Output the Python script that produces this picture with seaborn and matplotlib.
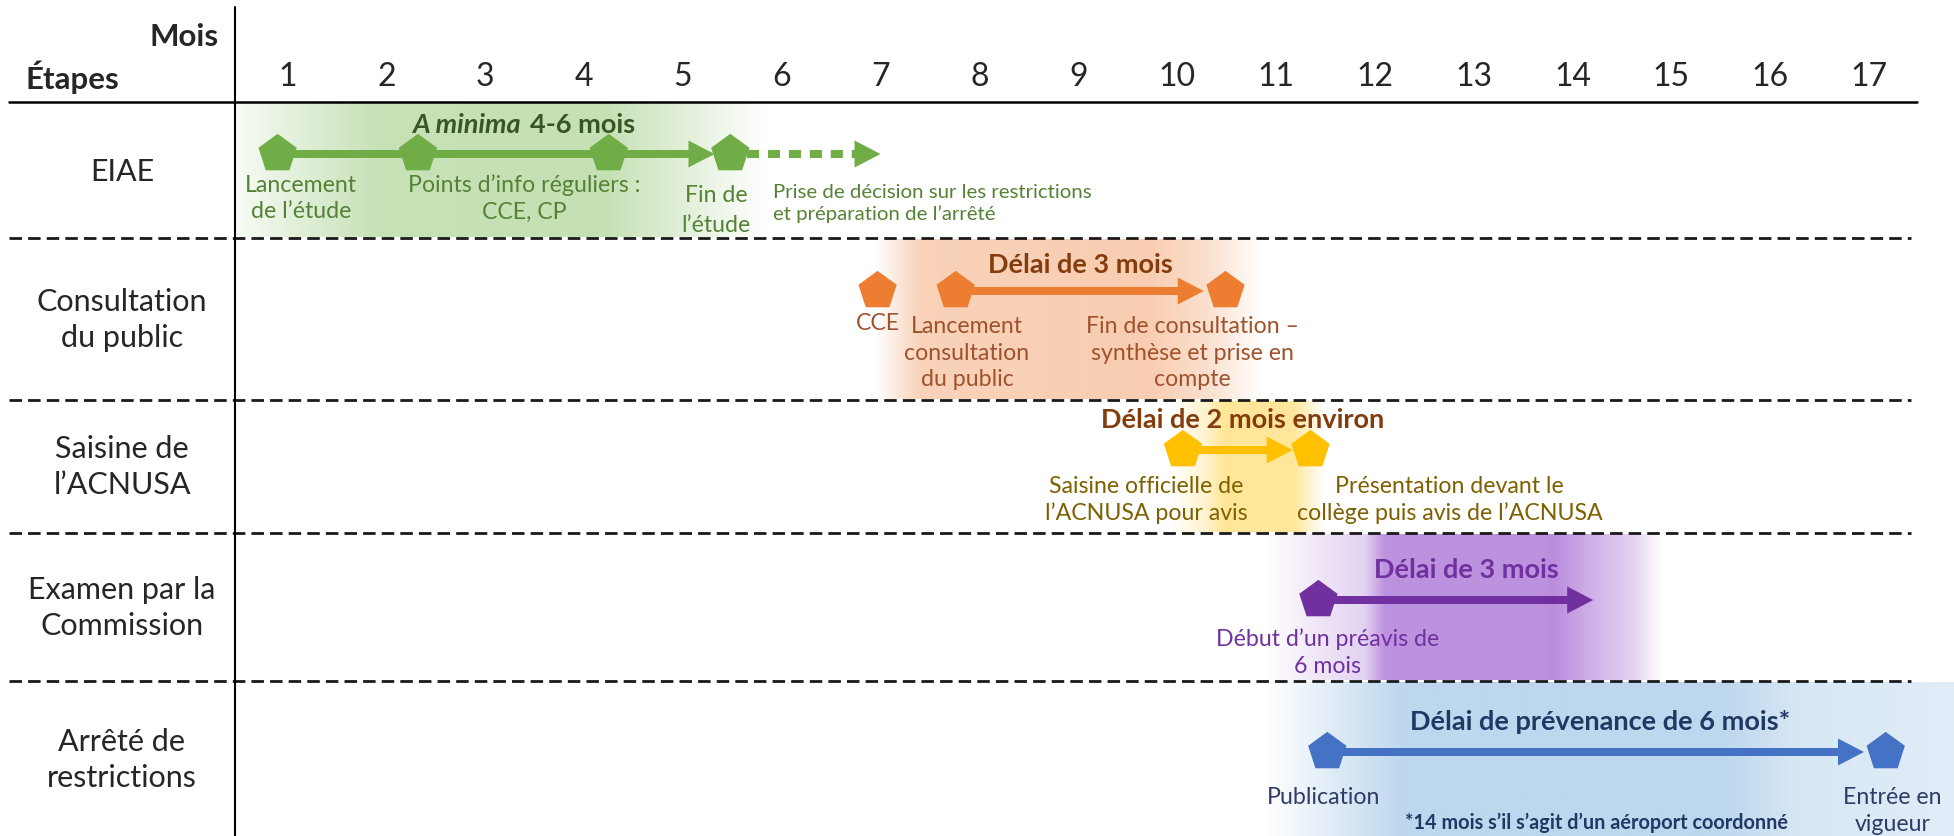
import numpy as np
import pandas as pd
import matplotlib
matplotlib.use("Agg")
import matplotlib.pyplot as plt
import seaborn as sns
from matplotlib.colors import to_rgb

# ---- données ----
mois = list(range(1, 18))
etapes = ["EIAE", "Consultation\ndu public", "Saisine de\nl’ACNUSA",
          "Examen par la\nCommission", "Arrêté de\nrestrictions"]

# jalons (en mois) de chaque étape
jalons_eiae = [0.90, 2.32, 4.25, 5.48]
jalons_consult = [6.97, 7.76, 10.49]
jalons_saisine = [10.06, 11.35]
jalons_examen = [11.43]
jalons_arrete = [11.52, 17.17]

# flèches (début, fin) en mois
fleche_eiae = (0.90, 5.32)
pointilles_eiae = (5.65, 7.00)
fleche_consult = (7.76, 10.27)
fleche_saisine = (10.06, 11.17)
fleche_examen = (11.43, 14.21)
fleche_arrete = (11.52, 16.95)

# titres des délais (texte, mois du centre)
titres = [("Délai de 3 mois", 9.02), ("Délai de 2 mois environ", 10.66),
          ("Délai de 3 mois", 12.93), ("Délai de prévenance de 6 mois*", 14.28)]

# libellés des jalons (texte, mois du centre)
libelles_eiae = [("Lancement\nde l’étude", 1.14), ("Points d’info réguliers :\nCCE, CP", 3.40)]
libelle_fin_eiae = ("Fin de\nl’étude", 5.335)
libelle_decision = ("Prise de décision sur les restrictions\net préparation de l’arrêté", 5.91)
libelles_consult = [("CCE", 6.97), ("Lancement\nconsultation\ndu public", 7.875),
                    ("Fin de consultation –\nsynthèse et prise en\ncompte", 10.16)]
libelles_saisine = [("Saisine officielle de\nl’ACNUSA pour avis", 9.69),
                    ("Présentation devant le\ncollège puis avis de l’ACNUSA", 12.76)]
libelles_examen = [("Début d’un préavis de\n6 mois", 11.52)]
libelles_arrete = [("Publication", 11.48)]
libelle_entree = ("Entrée en\nvigueur", 17.24)
note_arrete = ("*14 mois s’il s’agit d’un aéroport coordonné", 14.24)

# ---- mise en page ----
W, H = 1954, 836
X1, DX = 287.5, 98.84          # pixel du mois 1, largeur d'un mois


def px2m(px):
    return 1 + (px - X1) / DX


row_y = [154, 291, 450, 600, 752]          # axe des flèches
seps = [238, 400, 533, 681]                # séparateurs pointillés
label_y = [172, 320, 467, 608, 760]

green, green_t, green_d = "#70AD47", "#548235", "#375623"
orange, orange_t, orange_d = "#ED7D31", "#A0522D", "#843C0C"
yellow, yellow_t = "#FFC000", "#7F6000"
purple = "#7030A0"
blue, blue_t, blue_d = "#4472C4", "#2F3B66", "#203864"

sns.set_theme(style="white")
plt.rcParams["font.family"] = ["Lato", "DejaVu Sans"]

fig = plt.figure(figsize=(W / 100, H / 100), dpi=100)
ax = fig.add_axes([0, 0, 1, 1])


def bande(stops_x, stops_a, color, y0, y1):
    xs = np.linspace(stops_x[0], stops_x[-1], 800)
    a = np.interp(xs, stops_x, stops_a)
    c = np.array(to_rgb(color))
    img = 1 - a[:, None] * (1 - c[None, :])
    ax.imshow(img[None, :, :], extent=[xs[0], xs[-1], y1, y0], aspect="auto",
              interpolation="bilinear", zorder=0)


# fonds dégradés
bande([px2m(236), 1.9, 4.2, 4.6, 5.85], [0.15, 0.95, 1, 0.75, 0], "#C5E0B4", 103, 237)
bande([6.94, 7.4, 9.7, 10.3, 10.85], [0, 0.85, 0.95, 0.6, 0], "#F8CBAD", 239, 399)
bande([9.93, 10.3, 10.47, 11.17, 11.48], [0, 0.5, 1, 1, 0], "#FFE699", 401, 532)
bande([10.9, 11.9, 12.1, 13.7, 13.8, 14.3, 14.6, 14.9],
      [0, 0.4, 0.95, 0.95, 1, 0.6, 0.4, 0], "#B98CDC", 534, 680)
bande([10.9, 11.4, 12.3, 15.5, 16.3, px2m(W)], [0, 0.35, 1, 1, 0.6, 0.45], "#BDD7EE", 682, 836)

# grille : en-tête, séparateurs, colonne des étapes
ax.plot([px2m(9), px2m(1917)], [102, 102], color="black", lw=1.8, zorder=1)
ax.hlines(seps, px2m(9), px2m(1911), colors="#1a1a1a", lw=2.0,
          linestyles=(0, (4.5, 2.2)), zorder=1)
ax.plot([px2m(235), px2m(235)], [7, H], color="black", lw=1.5, zorder=1)


# flèches
def fleche(x0, x1, y, color):
    ax.arrow(x0, y, x1 - x0, 0, width=8, head_width=27, head_length=26 / DX,
             length_includes_head=True, color=color, lw=0, zorder=2)


fleche(*fleche_eiae, row_y[0], green)
fleche(*fleche_consult, row_y[1], orange)
fleche(*fleche_saisine, row_y[2], yellow)
fleche(*fleche_examen, row_y[3], purple)
fleche(*fleche_arrete, row_y[4], blue)

p0, p1 = pointilles_eiae
ax.plot([p0, p1 - 24 / DX], [row_y[0]] * 2, color=green, lw=5.8,
        linestyle=(0, (1.5, 1.1)), dash_capstyle="butt", zorder=2)
ax.arrow(p1 - 26 / DX, row_y[0], 26 / DX, 0, width=0.1, head_width=27,
         head_length=26 / DX, length_includes_head=True, color=green, lw=0, zorder=2)

# jalons (pentagones)
df = pd.DataFrame({
    "mois": jalons_eiae + jalons_consult + jalons_saisine + jalons_examen + jalons_arrete,
    "etape": (["EIAE"] * len(jalons_eiae) + ["Consultation"] * len(jalons_consult)
              + ["Saisine"] * len(jalons_saisine) + ["Examen"] * len(jalons_examen)
              + ["Arrêté"] * len(jalons_arrete)),
})
ypos = dict(zip(["EIAE", "Consultation", "Saisine", "Examen", "Arrêté"], row_y))
df["y"] = df["etape"].map(ypos)
sns.scatterplot(data=df, x="mois", y="y", hue="etape", marker="p", s=29 ** 2,
                linewidth=0, legend=False, zorder=3, ax=ax,
                palette={"EIAE": green, "Consultation": orange, "Saisine": yellow,
                         "Examen": purple, "Arrêté": blue})

# en-tête
ax.text(px2m(219), 37, "Mois", ha="right", va="center", fontsize=22.5, fontweight="bold")
ax.text(px2m(25), 77, "Étapes", ha="left", va="center", fontsize=22.5, fontweight="bold")
for m in mois:
    ax.text(m, 77, str(m), ha="center", va="center", fontsize=23)
for lab, y in zip(etapes, label_y):
    ax.text(px2m(122), y, lab, ha="center", va="center", fontsize=22, linespacing=1.32)

# textes EIAE
FS = 16.7
ax.text(px2m(521), 125, "A minima", ha="right", va="center", fontsize=19.5,
        fontweight="bold", fontstyle="italic", color=green_d)
ax.text(px2m(530), 125, "4-6 mois", ha="left", va="center", fontsize=19.5,
        fontweight="bold", color=green_d)
for txt, x in libelles_eiae:
    ax.text(x, 198.5, txt, ha="center", va="center", fontsize=FS, color=green_t, linespacing=1.34)
ax.text(libelle_fin_eiae[1], 210.5, libelle_fin_eiae[0], ha="center", va="center",
        fontsize=FS, color=green_t, linespacing=1.48)
ax.text(libelle_decision[1], 203.5, libelle_decision[0], ha="left", va="center",
        fontsize=14.7, color=green_t, linespacing=1.34)

# textes des autres étapes
title_y = [265, 420, 570, 722]
title_c = [orange_d, orange_d, purple, blue_d]
for (txt, x), y, c in zip(titres, title_y, title_c):
    ax.text(x, y, txt, ha="center", va="center", fontsize=19.5, fontweight="bold", color=c)

ax.text(libelles_consult[0][1], 323, libelles_consult[0][0], ha="center", va="center",
        fontsize=FS, color=orange_t)
for txt, x in libelles_consult[1:]:
    ax.text(x, 353, txt, ha="center", va="center", fontsize=FS, color=orange_t, linespacing=1.34)
for txt, x in libelles_saisine:
    ax.text(x, 500, txt, ha="center", va="center", fontsize=FS, color=yellow_t, linespacing=1.34)
for txt, x in libelles_examen:
    ax.text(x, 652.5, txt, ha="center", va="center", fontsize=FS, color=purple, linespacing=1.34)
for txt, x in libelles_arrete:
    ax.text(x, 797, txt, ha="center", va="center", fontsize=FS, color=blue_t)
ax.text(libelle_entree[1], 811, libelle_entree[0], ha="center", va="center",
        fontsize=FS, color=blue_t, linespacing=1.34)
ax.text(note_arrete[1], 823, note_arrete[0], ha="center", va="center",
        fontsize=14.3, fontweight="bold", color=blue_d)

ax.set_xlim(px2m(0), px2m(W))
ax.set_ylim(H, 0)
ax.axis("off")

fig.savefig("out.png", dpi=100)
plt.close(fig)
